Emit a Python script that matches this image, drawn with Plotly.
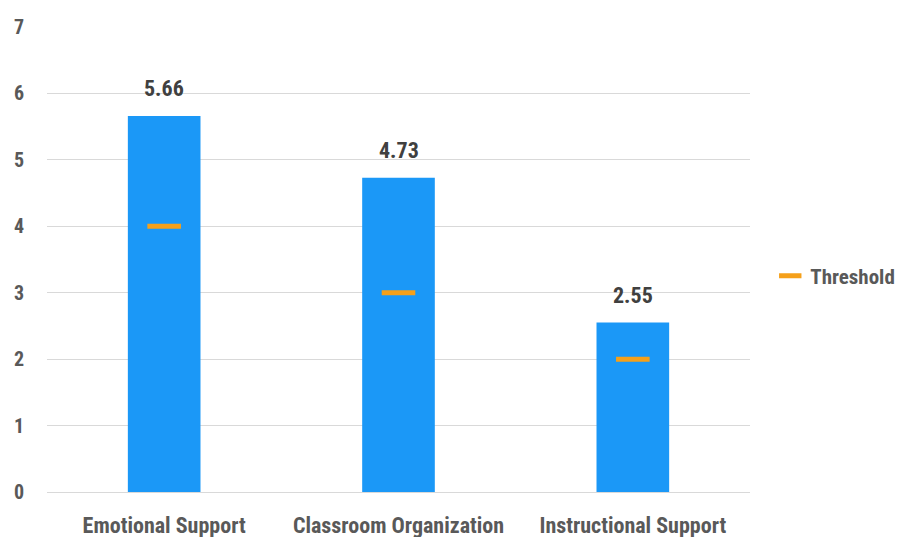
import plotly.graph_objects as go

categories = ["Emotional Support", "Classroom Organization", "Instructional Support"]
scores = [5.66, 4.73, 2.55]
thresholds = [4, 3, 2]
score_labels = ["5.66", "4.73", "2.55"]
y_ticks = [0, 1, 2, 3, 4, 5, 6, 7]

FONT = "Roboto Condensed, Roboto, sans-serif"
GRAY = "#595959"

fig = go.Figure()
fig.add_trace(go.Bar(
    x=categories, y=scores, marker=dict(color="#1B98F7", line=dict(width=0)),
    width=0.31, showlegend=False, hoverinfo="skip",
))
fig.add_trace(go.Scatter(
    x=categories, y=thresholds, mode="markers", name="Threshold",
    marker=dict(symbol="line-ew", size=24, color="#F5A01A",
                line=dict(color="#F5A01A", width=5)),
))
for c, v, t in zip(categories, scores, score_labels):
    fig.add_annotation(x=c, y=v, text=t, showarrow=False,
                       yanchor="bottom", yshift=13,
                       font=dict(family=FONT, size=22, color="#404040", weight="bold"))

fig.update_layout(
    width=903, height=537,
    margin=dict(l=47, r=153, t=27, b=45, autoexpand=False),
    plot_bgcolor="white", paper_bgcolor="white",
    font=dict(family=FONT, color=GRAY),
    showlegend=True,
    legend=dict(x=0.853, y=0.486, xref="container", yref="container",
                xanchor="left", yanchor="middle",
                font=dict(family=FONT, size=21, color=GRAY, weight="bold"),
                itemwidth=30),
)
fig.update_xaxes(
    showline=True, linecolor="#D9D9D9", linewidth=1,
    tickfont=dict(family=FONT, size=22, color=GRAY, weight="bold"),
    tickangle=0, ticklabelstandoff=14, ticks="", automargin=False,
)
fig.update_yaxes(
    range=[0, 7], tickvals=y_ticks, showgrid=True, gridcolor="#D9D9D9", gridwidth=1,
    zeroline=False, showline=False, automargin=False,
    tickfont=dict(family=FONT, size=20, color=GRAY, weight="bold"),
    ticklabelstandoff=22,
)
fig.write_html("out.html")
